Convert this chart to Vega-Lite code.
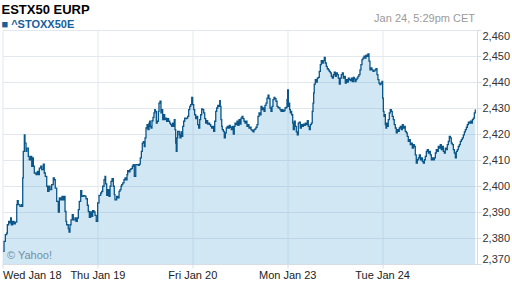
{
  "$schema": "https://vega.github.io/schema/vega-lite/v6.json",
  "width": 474.5,
  "height": 234,
  "autosize": {"type": "none"},
  "padding": {"left": 2.5, "top": 30, "right": 35, "bottom": 24},
  "background": "white",
  "config": {"font": "Liberation Sans", "view": {"stroke": null}},
  "title": {
    "text": "ESTX50 EURP",
    "subtitle": "■ ^STOXX50E",
    "anchor": "start",
    "frame": "group",
    "orient": "top",
    "offset": -17.5,
    "dx": -1,
    "font": "Liberation Sans",
    "fontSize": 13,
    "fontWeight": "bold",
    "color": "#000000",
    "subtitleFont": "Liberation Sans",
    "subtitleFontSize": 11,
    "subtitleFontWeight": "bold",
    "subtitleColor": "#17609a",
    "subtitlePadding": 2
  },
  "data": {"values": [
    {"t":0.008,"v":2374.9},{"t":0.016,"v":2378.7},{"t":0.030,"v":2381.3},{"t":0.044,"v":2381.9},{"t":0.051,"v":2385.1},{"t":0.065,"v":2386.4},{"t":0.072,"v":2385.8},{"t":0.086,"v":2387.7},{"t":0.093,"v":2385.1},{"t":0.107,"v":2386.4},{"t":0.121,"v":2385.4},{"t":0.135,"v":2386.1},{"t":0.150,"v":2392.8},{"t":0.156,"v":2394.4},{"t":0.166,"v":2392.8},{"t":0.184,"v":2392.2},{"t":0.202,"v":2392.8},{"t":0.209,"v":2392.2},{"t":0.213,"v":2403.1},{"t":0.219,"v":2413.3},{"t":0.230,"v":2419.7},{"t":0.237,"v":2416.5},{"t":0.248,"v":2413.3},{"t":0.255,"v":2414.6},{"t":0.272,"v":2411.4},{"t":0.282,"v":2410.1},{"t":0.297,"v":2411.4},{"t":0.308,"v":2407.6},{"t":0.314,"v":2410.8},{"t":0.325,"v":2407.6},{"t":0.335,"v":2405.0},{"t":0.353,"v":2404.4},{"t":0.367,"v":2405.6},{"t":0.377,"v":2404.4},{"t":0.388,"v":2406.9},{"t":0.403,"v":2407.6},{"t":0.413,"v":2406.3},{"t":0.430,"v":2408.4},{"t":0.440,"v":2405.0},{"t":0.451,"v":2403.7},{"t":0.466,"v":2399.9},{"t":0.476,"v":2397.9},{"t":0.490,"v":2399.9},{"t":0.501,"v":2398.6},{"t":0.518,"v":2400.5},{"t":0.535,"v":2403.1},{"t":0.546,"v":2402.4},{"t":0.556,"v":2399.2},{"t":0.571,"v":2394.1},{"t":0.588,"v":2390.0},{"t":0.599,"v":2395.4},{"t":0.613,"v":2394.7},{"t":0.627,"v":2396.0},{"t":0.641,"v":2394.7},{"t":0.651,"v":2396.0},{"t":0.659,"v":2390.2},{"t":0.669,"v":2386.4},{"t":0.676,"v":2385.1},{"t":0.693,"v":2383.6},{"t":0.701,"v":2382.3},{"t":0.711,"v":2385.1},{"t":0.722,"v":2387.0},{"t":0.735,"v":2389.0},{"t":0.746,"v":2387.0},{"t":0.764,"v":2387.7},{"t":0.774,"v":2386.4},{"t":0.788,"v":2387.7},{"t":0.799,"v":2390.9},{"t":0.809,"v":2394.1},{"t":0.824,"v":2398.2},{"t":0.835,"v":2396.0},{"t":0.851,"v":2396.3},{"t":0.869,"v":2396.0},{"t":0.880,"v":2395.1},{"t":0.894,"v":2392.6},{"t":0.904,"v":2390.2},{"t":0.915,"v":2387.9},{"t":0.929,"v":2390.0},{"t":0.940,"v":2388.3},{"t":0.950,"v":2390.5},{"t":0.964,"v":2390.0},{"t":0.975,"v":2388.7},{"t":0.988,"v":2386.4},
    {"t":1.003,"v":2393.5},{"t":1.017,"v":2396.4},{"t":1.035,"v":2397.3},{"t":1.045,"v":2397.9},{"t":1.056,"v":2399.9},{"t":1.070,"v":2402.4},{"t":1.080,"v":2403.7},{"t":1.087,"v":2400.8},{"t":1.098,"v":2396.4},{"t":1.109,"v":2398.6},{"t":1.122,"v":2396.0},{"t":1.133,"v":2399.9},{"t":1.143,"v":2401.8},{"t":1.154,"v":2402.8},{"t":1.168,"v":2399.9},{"t":1.178,"v":2396.7},{"t":1.185,"v":2394.7},{"t":1.203,"v":2396.0},{"t":1.214,"v":2395.4},{"t":1.228,"v":2397.9},{"t":1.238,"v":2398.6},{"t":1.249,"v":2399.9},{"t":1.256,"v":2400.5},{"t":1.267,"v":2401.2},{"t":1.280,"v":2402.4},{"t":1.291,"v":2403.1},{"t":1.301,"v":2402.4},{"t":1.312,"v":2404.4},{"t":1.319,"v":2405.9},{"t":1.333,"v":2405.4},{"t":1.343,"v":2406.3},{"t":1.354,"v":2406.7},{"t":1.368,"v":2407.6},{"t":1.378,"v":2408.2},{"t":1.389,"v":2403.7},{"t":1.404,"v":2408.2},{"t":1.414,"v":2408.2},{"t":1.431,"v":2407.9},{"t":1.442,"v":2408.4},{"t":1.452,"v":2410.8},{"t":1.463,"v":2413.3},{"t":1.473,"v":2416.5},{"t":1.484,"v":2417.1},{"t":1.494,"v":2415.2},{"t":1.502,"v":2418.5},{"t":1.512,"v":2422.3},{"t":1.523,"v":2423.6},{"t":1.533,"v":2421.7},{"t":1.544,"v":2424.2},{"t":1.551,"v":2424.9},{"t":1.557,"v":2422.9},{"t":1.565,"v":2422.3},{"t":1.575,"v":2425.1},{"t":1.586,"v":2426.4},{"t":1.596,"v":2428.1},{"t":1.604,"v":2429.4},{"t":1.610,"v":2428.7},{"t":1.621,"v":2424.2},{"t":1.631,"v":2424.9},{"t":1.642,"v":2428.7},{"t":1.649,"v":2431.9},{"t":1.660,"v":2432.6},{"t":1.670,"v":2428.1},{"t":1.677,"v":2429.4},{"t":1.688,"v":2425.5},{"t":1.699,"v":2427.4},{"t":1.709,"v":2425.5},{"t":1.720,"v":2426.1},{"t":1.730,"v":2424.9},{"t":1.741,"v":2425.9},{"t":1.751,"v":2424.9},{"t":1.762,"v":2424.2},{"t":1.772,"v":2423.6},{"t":1.783,"v":2422.9},{"t":1.793,"v":2424.2},{"t":1.804,"v":2422.9},{"t":1.810,"v":2425.5},{"t":1.818,"v":2421.7},{"t":1.825,"v":2416.5},{"t":1.831,"v":2413.3},{"t":1.839,"v":2418.5},{"t":1.846,"v":2421.0},{"t":1.852,"v":2421.0},{"t":1.863,"v":2419.7},{"t":1.870,"v":2418.5},{"t":1.881,"v":2420.8},{"t":1.888,"v":2419.1},{"t":1.899,"v":2422.9},{"t":1.909,"v":2424.9},{"t":1.920,"v":2426.1},{"t":1.930,"v":2425.9},{"t":1.941,"v":2426.1},{"t":1.951,"v":2426.8},{"t":1.962,"v":2429.4},{"t":1.973,"v":2430.6},{"t":1.983,"v":2431.3},{"t":1.994,"v":2434.1},
    {"t":2.004,"v":2431.3},{"t":2.015,"v":2429.4},{"t":2.025,"v":2427.4},{"t":2.036,"v":2425.9},{"t":2.046,"v":2426.8},{"t":2.057,"v":2423.6},{"t":2.067,"v":2422.3},{"t":2.078,"v":2425.5},{"t":2.088,"v":2427.4},{"t":2.099,"v":2429.7},{"t":2.109,"v":2429.4},{"t":2.120,"v":2428.1},{"t":2.131,"v":2425.9},{"t":2.141,"v":2424.2},{"t":2.152,"v":2425.1},{"t":2.162,"v":2423.8},{"t":2.173,"v":2424.2},{"t":2.183,"v":2423.6},{"t":2.194,"v":2422.9},{"t":2.204,"v":2422.3},{"t":2.215,"v":2422.9},{"t":2.225,"v":2421.0},{"t":2.236,"v":2424.9},{"t":2.247,"v":2428.7},{"t":2.257,"v":2430.0},{"t":2.268,"v":2431.0},{"t":2.278,"v":2430.6},{"t":2.289,"v":2432.8},{"t":2.295,"v":2430.6},{"t":2.302,"v":2425.5},{"t":2.310,"v":2422.9},{"t":2.316,"v":2421.7},{"t":2.327,"v":2421.0},{"t":2.337,"v":2418.5},{"t":2.348,"v":2420.4},{"t":2.358,"v":2422.3},{"t":2.369,"v":2422.9},{"t":2.379,"v":2422.3},{"t":2.390,"v":2423.3},{"t":2.400,"v":2422.6},{"t":2.411,"v":2421.7},{"t":2.421,"v":2422.9},{"t":2.432,"v":2420.0},{"t":2.442,"v":2422.9},{"t":2.450,"v":2424.2},{"t":2.460,"v":2423.6},{"t":2.471,"v":2424.9},{"t":2.481,"v":2423.3},{"t":2.492,"v":2425.5},{"t":2.503,"v":2423.8},{"t":2.513,"v":2426.1},{"t":2.524,"v":2426.8},{"t":2.534,"v":2425.9},{"t":2.545,"v":2424.9},{"t":2.555,"v":2424.2},{"t":2.566,"v":2424.9},{"t":2.576,"v":2422.9},{"t":2.587,"v":2423.6},{"t":2.597,"v":2422.3},{"t":2.608,"v":2422.6},{"t":2.619,"v":2421.7},{"t":2.629,"v":2421.3},{"t":2.640,"v":2420.8},{"t":2.650,"v":2421.7},{"t":2.661,"v":2422.0},{"t":2.671,"v":2422.6},{"t":2.682,"v":2423.6},{"t":2.692,"v":2426.8},{"t":2.703,"v":2428.1},{"t":2.713,"v":2427.4},{"t":2.724,"v":2430.6},{"t":2.735,"v":2429.4},{"t":2.745,"v":2430.0},{"t":2.756,"v":2428.7},{"t":2.766,"v":2431.0},{"t":2.777,"v":2431.9},{"t":2.787,"v":2433.8},{"t":2.798,"v":2434.9},{"t":2.808,"v":2433.6},{"t":2.819,"v":2430.0},{"t":2.829,"v":2428.7},{"t":2.840,"v":2430.6},{"t":2.850,"v":2433.2},{"t":2.861,"v":2434.1},{"t":2.871,"v":2433.6},{"t":2.882,"v":2432.6},{"t":2.893,"v":2430.6},{"t":2.903,"v":2430.2},{"t":2.914,"v":2430.0},{"t":2.924,"v":2429.4},{"t":2.935,"v":2428.7},{"t":2.945,"v":2429.4},{"t":2.956,"v":2428.7},{"t":2.966,"v":2429.0},{"t":2.977,"v":2430.0},{"t":2.987,"v":2430.2},{"t":2.998,"v":2433.2},
    {"t":3.005,"v":2437.0},{"t":3.012,"v":2430.6},{"t":3.020,"v":2431.9},{"t":3.026,"v":2429.4},{"t":3.033,"v":2428.1},{"t":3.040,"v":2428.7},{"t":3.047,"v":2427.4},{"t":3.058,"v":2424.2},{"t":3.064,"v":2421.7},{"t":3.075,"v":2424.9},{"t":3.085,"v":2422.9},{"t":3.096,"v":2420.8},{"t":3.106,"v":2419.7},{"t":3.117,"v":2424.2},{"t":3.127,"v":2424.6},{"t":3.138,"v":2422.3},{"t":3.149,"v":2423.6},{"t":3.159,"v":2422.9},{"t":3.170,"v":2423.8},{"t":3.180,"v":2423.3},{"t":3.191,"v":2424.2},{"t":3.201,"v":2423.6},{"t":3.212,"v":2425.1},{"t":3.222,"v":2422.9},{"t":3.233,"v":2421.7},{"t":3.243,"v":2423.6},{"t":3.254,"v":2424.2},{"t":3.264,"v":2428.7},{"t":3.272,"v":2431.9},{"t":3.279,"v":2435.8},{"t":3.285,"v":2439.2},{"t":3.296,"v":2440.9},{"t":3.307,"v":2440.0},{"t":3.317,"v":2441.5},{"t":3.328,"v":2441.8},{"t":3.338,"v":2444.1},{"t":3.349,"v":2446.7},{"t":3.359,"v":2448.2},{"t":3.370,"v":2447.3},{"t":3.380,"v":2448.2},{"t":3.391,"v":2449.5},{"t":3.401,"v":2447.3},{"t":3.412,"v":2446.0},{"t":3.422,"v":2445.1},{"t":3.433,"v":2444.7},{"t":3.443,"v":2444.1},{"t":3.454,"v":2443.5},{"t":3.465,"v":2442.2},{"t":3.475,"v":2441.5},{"t":3.486,"v":2442.8},{"t":3.496,"v":2443.8},{"t":3.507,"v":2442.2},{"t":3.517,"v":2443.5},{"t":3.528,"v":2442.8},{"t":3.538,"v":2441.5},{"t":3.549,"v":2439.2},{"t":3.559,"v":2441.5},{"t":3.570,"v":2442.8},{"t":3.581,"v":2443.5},{"t":3.591,"v":2441.5},{"t":3.602,"v":2442.2},{"t":3.612,"v":2439.6},{"t":3.623,"v":2440.9},{"t":3.633,"v":2440.0},{"t":3.644,"v":2441.5},{"t":3.654,"v":2440.9},{"t":3.665,"v":2440.5},{"t":3.675,"v":2441.5},{"t":3.686,"v":2440.2},{"t":3.697,"v":2441.8},{"t":3.707,"v":2441.3},{"t":3.714,"v":2440.2},{"t":3.725,"v":2440.9},{"t":3.735,"v":2441.5},{"t":3.746,"v":2442.2},{"t":3.756,"v":2442.8},{"t":3.767,"v":2444.7},{"t":3.777,"v":2446.7},{"t":3.788,"v":2448.6},{"t":3.798,"v":2449.2},{"t":3.809,"v":2449.9},{"t":3.819,"v":2449.2},{"t":3.830,"v":2450.3},{"t":3.841,"v":2449.9},{"t":3.851,"v":2450.8},{"t":3.862,"v":2448.0},{"t":3.872,"v":2444.7},{"t":3.883,"v":2445.4},{"t":3.893,"v":2444.7},{"t":3.904,"v":2444.1},{"t":3.914,"v":2444.3},{"t":3.925,"v":2444.7},{"t":3.935,"v":2445.1},{"t":3.946,"v":2442.8},{"t":3.956,"v":2440.9},{"t":3.967,"v":2439.6},{"t":3.977,"v":2439.0},{"t":3.988,"v":2439.6},{"t":3.998,"v":2440.2},
    {"t":4.006,"v":2433.8},{"t":4.013,"v":2428.7},{"t":4.020,"v":2426.8},{"t":4.027,"v":2427.4},{"t":4.034,"v":2423.6},{"t":4.041,"v":2422.3},{"t":4.048,"v":2424.2},{"t":4.055,"v":2422.9},{"t":4.065,"v":2425.5},{"t":4.076,"v":2428.1},{"t":4.086,"v":2429.4},{"t":4.097,"v":2428.7},{"t":4.107,"v":2426.8},{"t":4.118,"v":2425.5},{"t":4.128,"v":2423.6},{"t":4.139,"v":2422.3},{"t":4.149,"v":2420.4},{"t":4.160,"v":2421.7},{"t":4.171,"v":2421.0},{"t":4.181,"v":2422.3},{"t":4.192,"v":2422.9},{"t":4.202,"v":2421.7},{"t":4.213,"v":2423.6},{"t":4.223,"v":2422.3},{"t":4.234,"v":2422.9},{"t":4.244,"v":2421.0},{"t":4.255,"v":2420.4},{"t":4.265,"v":2419.1},{"t":4.276,"v":2417.2},{"t":4.287,"v":2417.8},{"t":4.297,"v":2415.9},{"t":4.308,"v":2416.5},{"t":4.318,"v":2414.6},{"t":4.329,"v":2415.9},{"t":4.339,"v":2415.2},{"t":4.350,"v":2412.0},{"t":4.360,"v":2408.8},{"t":4.371,"v":2410.1},{"t":4.381,"v":2410.8},{"t":4.392,"v":2412.0},{"t":4.403,"v":2410.1},{"t":4.413,"v":2410.8},{"t":4.424,"v":2409.5},{"t":4.434,"v":2408.8},{"t":4.445,"v":2410.1},{"t":4.455,"v":2411.4},{"t":4.466,"v":2413.3},{"t":4.476,"v":2414.0},{"t":4.487,"v":2412.7},{"t":4.497,"v":2413.3},{"t":4.508,"v":2412.0},{"t":4.519,"v":2410.1},{"t":4.529,"v":2410.8},{"t":4.540,"v":2410.1},{"t":4.550,"v":2410.8},{"t":4.561,"v":2412.7},{"t":4.571,"v":2414.0},{"t":4.582,"v":2413.3},{"t":4.592,"v":2415.2},{"t":4.603,"v":2414.6},{"t":4.613,"v":2415.9},{"t":4.624,"v":2414.0},{"t":4.635,"v":2415.2},{"t":4.645,"v":2413.3},{"t":4.656,"v":2412.7},{"t":4.666,"v":2414.6},{"t":4.677,"v":2414.0},{"t":4.687,"v":2415.9},{"t":4.698,"v":2417.2},{"t":4.708,"v":2419.1},{"t":4.719,"v":2418.5},{"t":4.729,"v":2416.5},{"t":4.740,"v":2415.9},{"t":4.751,"v":2414.0},{"t":4.761,"v":2412.7},{"t":4.772,"v":2410.8},{"t":4.782,"v":2413.3},{"t":4.793,"v":2414.0},{"t":4.803,"v":2415.2},{"t":4.814,"v":2415.9},{"t":4.824,"v":2417.2},{"t":4.835,"v":2417.8},{"t":4.845,"v":2418.5},{"t":4.856,"v":2419.7},{"t":4.867,"v":2420.8},{"t":4.877,"v":2421.7},{"t":4.888,"v":2422.6},{"t":4.898,"v":2423.6},{"t":4.909,"v":2424.6},{"t":4.919,"v":2424.2},{"t":4.930,"v":2424.9},{"t":4.940,"v":2424.2},{"t":4.951,"v":2425.5},{"t":4.961,"v":2426.1},{"t":4.972,"v":2428.1},{"t":4.982,"v":2429.4}
  ]},
  "resolve": {"axis": {"x": "independent", "y": "independent"}},
  "layer": [
    {
      "mark": {"type": "area", "fill": "#4a9fd5", "opacity": 0.25, "interpolate": "step-after", "clip": true},
      "encoding": {
        "x": {"field": "t", "type": "quantitative",
          "scale": {"domain": [0, 5], "nice": false, "zero": false},
          "axis": {"orient": "bottom", "values": [0, 1, 2, 3, 4],
            "labelExpr": "['Wed Jan 18','Thu Jan 19','Fri Jan 20','Mon Jan 23','Tue Jan 24'][datum.value]",
            "labelFlush": true, "grid": true, "gridColor": "#e3e8ee", "gridOpacity": 1,
            "tickColor": "#d6dde5", "tickSize": 4, "domainColor": "#d6dde5",
            "labelColor": "#222222", "labelFont": "Liberation Sans", "labelFontSize": 11, "labelPadding": 1, "title": null}},
        "y": {"field": "v", "type": "quantitative",
          "scale": {"domain": [2370, 2460], "nice": false, "zero": false},
          "axis": {"orient": "right", "values": [2370, 2380, 2390, 2400, 2410, 2420, 2430, 2440, 2450, 2460],
            "format": ",d", "labelFlush": true, "grid": true, "gridColor": "#e3e8ee", "gridOpacity": 1,
            "tickColor": "#d6dde5", "tickSize": 4, "domainColor": "#d6dde5",
            "labelColor": "#333333", "labelFont": "Liberation Sans", "labelFontSize": 11, "labelPadding": 1, "title": null}}
      }
    },
    {
      "mark": {"type": "line", "stroke": "#0b5689", "strokeWidth": 1.3, "interpolate": "step-after", "clip": true},
      "encoding": {
        "x": {"field": "t", "type": "quantitative",
          "axis": {"orient": "top", "labels": false, "ticks": false, "domain": false, "grid": false,
            "title": "Jan 24, 5:29pm CET", "titleColor": "#9a9a9a", "titleFont": "Liberation Sans", "titleFontWeight": "normal",
            "titleFontSize": 11, "titleAlign": "right", "titleAnchor": "end", "titleBaseline": "alphabetic", "titleX": 472, "titleY": -9}},
        "y": {"field": "v", "type": "quantitative",
          "axis": {"orient": "left", "labels": false, "ticks": false, "domain": false, "grid": false,
            "title": "© Yahoo!", "titleAngle": 0, "titleColor": "#7f8a93", "titleFont": "Liberation Sans", "titleFontWeight": "normal",
            "titleFontSize": 11, "titleAlign": "left", "titleBaseline": "alphabetic", "titleX": 4, "titleY": 228}}
      }
    }
  ]
}
